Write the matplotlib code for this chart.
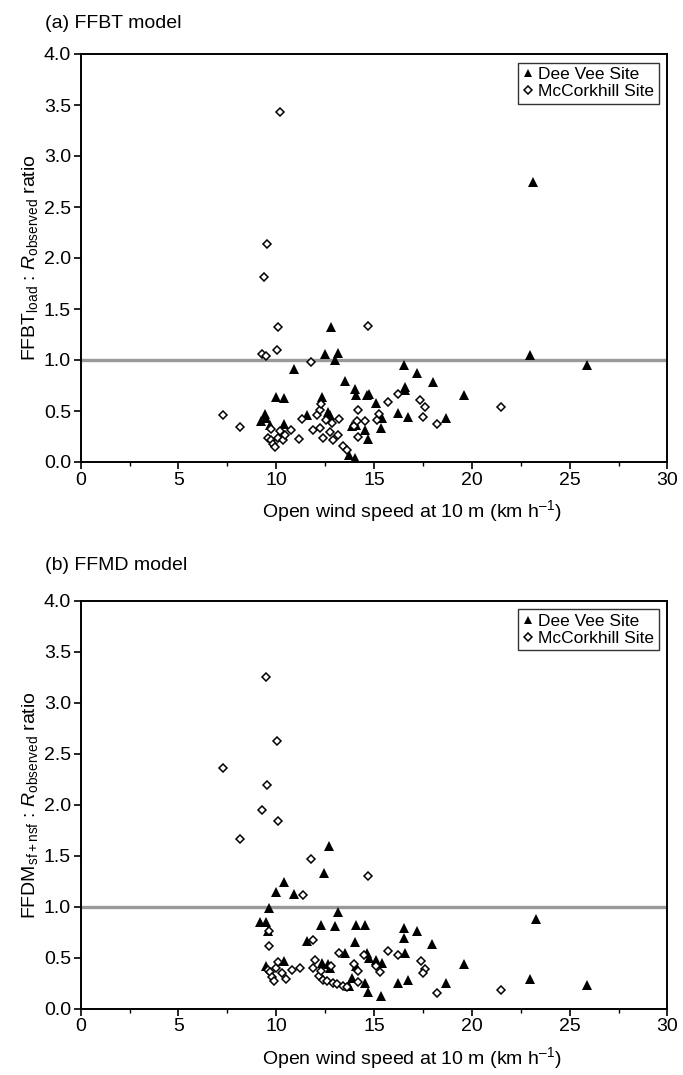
import matplotlib
matplotlib.use("Agg")
import matplotlib.pyplot as plt
from matplotlib.ticker import MultipleLocator

plt.rcParams['font.family'] = ['Liberation Sans', 'DejaVu Sans']
plt.rcParams['mathtext.fontset'] = 'custom'
plt.rcParams['mathtext.rm'] = 'Liberation Sans'
plt.rcParams['mathtext.it'] = 'Liberation Sans:italic'

# ---- Panel (a) FFBT model ----
a_deevee_x = [9.2, 9.43, 9.5, 9.68, 9.99, 10.42, 10.42, 10.93, 11.56, 12.33, 12.48, 12.67,
              12.75, 12.79, 13.0, 13.18, 13.52, 13.72, 14.03, 13.86, 14.03, 14.08, 14.08,
              14.62, 14.76, 14.54, 14.71, 15.1, 15.34, 15.4, 16.2, 16.55, 16.59, 16.59,
              16.76, 17.19, 18.0, 18.7, 19.6, 22.98, 23.15, 25.88]
a_deevee_y = [0.40, 0.47, 0.43, 0.36, 0.64, 0.63, 0.37, 0.91, 0.46, 0.64, 1.06, 0.49,
              0.46, 1.32, 1.00, 1.07, 0.79, 0.07, 0.04, 0.35, 0.72, 0.66, 0.36,
              0.66, 0.67, 0.31, 0.23, 0.58, 0.33, 0.43, 0.48, 0.95, 0.74, 0.71,
              0.44, 0.87, 0.78, 0.43, 0.66, 1.05, 2.75, 0.95]

a_mccork_x = [7.26, 8.15, 9.26, 9.5, 10.04, 10.08, 9.39, 9.51, 10.19, 11.78, 9.72, 9.6,
              9.72, 9.85, 9.93, 10.11, 10.33, 10.45, 10.19, 10.76, 11.18, 11.3, 11.9,
              12.07, 12.24, 12.24, 12.29, 12.38, 12.55, 12.75, 12.83, 12.92, 13.18,
              13.23, 13.4, 13.6, 13.95, 14.2, 14.15, 14.2, 14.54, 15.14, 15.27, 15.73,
              16.25, 17.36, 17.6, 17.52, 18.24, 21.5, 14.71]
a_mccork_y = [0.46, 0.34, 1.06, 1.04, 1.10, 1.32, 1.81, 2.14, 3.43, 0.98, 0.32, 0.24,
              0.22, 0.18, 0.15, 0.24, 0.22, 0.26, 0.30, 0.31, 0.23, 0.42, 0.31,
              0.46, 0.33, 0.51, 0.57, 0.24, 0.41, 0.29, 0.385, 0.22, 0.26,
              0.42, 0.16, 0.12, 0.35, 0.51, 0.40, 0.25, 0.40, 0.41, 0.47, 0.59,
              0.67, 0.61, 0.54, 0.44, 0.37, 0.54, 1.33]

# ---- Panel (b) FFMD model ----
b_deevee_x = [9.17, 9.48, 9.6, 9.65, 9.97, 10.42, 10.93, 11.56, 12.29, 12.46, 12.72,
              13.0, 13.18, 14.1, 14.56, 14.03, 16.55, 16.55, 17.19, 17.98, 23.27, 22.98,
              25.88, 19.6, 18.7, 10.42, 9.5, 12.33, 12.67, 12.75, 13.52, 13.72, 14.08,
              13.86, 14.62, 14.76, 14.54, 14.71, 15.1, 15.34, 15.4, 16.2, 16.59, 16.76]
b_deevee_y = [0.85, 0.85, 0.76, 0.99, 1.14, 1.24, 1.12, 0.66, 0.82, 1.33, 1.60,
              0.81, 0.95, 0.82, 0.82, 0.65, 0.79, 0.69, 0.76, 0.63, 0.88, 0.29,
              0.23, 0.44, 0.25, 0.47, 0.42, 0.45, 0.44, 0.40, 0.55, 0.22, 0.42,
              0.30, 0.55, 0.50, 0.25, 0.16, 0.48, 0.12, 0.45, 0.25, 0.55, 0.28]

b_mccork_x = [7.26, 8.15, 9.29, 9.55, 9.48, 10.06, 10.07, 11.78, 11.35, 9.65, 11.9, 9.63,
              14.71, 9.6, 9.7, 9.8, 9.9, 10.0, 10.1, 10.3, 10.5, 10.8, 11.2, 11.9, 12.0,
              12.2, 12.3, 12.4, 12.6, 12.8, 12.9, 13.1, 13.2, 13.4, 13.6, 13.95, 14.2,
              14.2, 14.5, 15.1, 15.3, 15.7, 16.25, 17.4, 17.6, 17.5, 18.2, 21.5]
b_mccork_y = [2.36, 1.66, 1.95, 2.19, 3.25, 2.62, 1.84, 1.47, 1.11, 0.61, 0.67, 0.76,
              1.30, 0.38, 0.36, 0.31, 0.27, 0.40, 0.46, 0.35, 0.29, 0.38, 0.40, 0.40, 0.48,
              0.32, 0.37, 0.28, 0.27, 0.42, 0.25, 0.24, 0.55, 0.22, 0.21, 0.44, 0.26,
              0.37, 0.53, 0.42, 0.36, 0.57, 0.53, 0.47, 0.39, 0.35, 0.15, 0.18]

titles = ["(a) FFBT model", "(b) FFMD model"]
ylabels = [r"FFBT$_{\mathrm{load}}$ : $R_{\mathrm{observed}}$ ratio",
           r"FFDM$_{\mathrm{sf+nsf}}$ : $R_{\mathrm{observed}}$ ratio"]
xlabel = "Open wind speed at 10 m (km h$^{\u2013 1}$)"
series_names = ["Dee Vee Site", "McCorkhill Site"]
xticks = [0, 5, 10, 15, 20, 25, 30]
yticks = [0.0, 0.5, 1.0, 1.5, 2.0, 2.5, 3.0, 3.5, 4.0]

W, H = 683, 1075
fig = plt.figure(figsize=(W / 100, H / 100), dpi=100)

panels = [
    (a_deevee_x, a_deevee_y, a_mccork_x, a_mccork_y),
    (b_deevee_x, b_deevee_y, b_mccork_x, b_mccork_y),
]
ax_left = 80.7 / W
ax_w = (667.4 - 80.7) / W
ax_h = 408 / H
ax_tops = [54, 600.7]
title_y = [23, 566]
FS = 14

for i, (dx, dy, mx, my) in enumerate(panels):
    top = ax_tops[i]
    ax = fig.add_axes([ax_left, 1 - (top + 408) / H, ax_w, ax_h])
    ax.axhline(1.0, color='#999999', lw=2.4, zorder=1)
    ax.plot(dx, dy, linestyle='none', marker='^', markersize=7.2, color='black',
            markeredgewidth=0, label=series_names[0], zorder=3, clip_on=False)
    ax.plot(mx, my, linestyle='none', marker='D', markersize=4.4, markerfacecolor='white',
            markeredgecolor='black', markeredgewidth=1.1, label=series_names[1], zorder=4,
            clip_on=False)
    ax.set_xlim(0, 30)
    ax.set_ylim(0, 4)
    ax.set_xticks(xticks)
    ax.set_yticks(yticks)
    ax.set_yticklabels([f"{v:.1f}" for v in yticks])
    ax.xaxis.set_minor_locator(MultipleLocator(2.5))
    ax.tick_params(axis='both', which='major', direction='out', length=5, width=1.2,
                   labelsize=FS, pad=2)
    ax.tick_params(axis='x', which='minor', direction='out', length=3, width=1.0)
    ax.tick_params(top=False, right=False)
    for s in ax.spines.values():
        s.set_linewidth(1.4)
    ax.set_xlabel(xlabel, fontsize=FS)
    ax.xaxis.set_label_coords(0.565, -0.088)
    ax.set_ylabel(ylabels[i], fontsize=FS, labelpad=3)
    leg = ax.legend(loc='upper right', frameon=True, fancybox=False, fontsize=12.5,
                    handlelength=0.6, handletextpad=0.3, borderpad=0.25,
                    labelspacing=0.12, borderaxespad=0.5, markerscale=0.85)
    leg.get_frame().set_edgecolor('black')
    leg.get_frame().set_linewidth(1.0)
    fig.text(45 / W, 1 - title_y[i] / H, titles[i], fontsize=FS, ha='left', va='center')

fig.savefig("out.png", dpi=100)
